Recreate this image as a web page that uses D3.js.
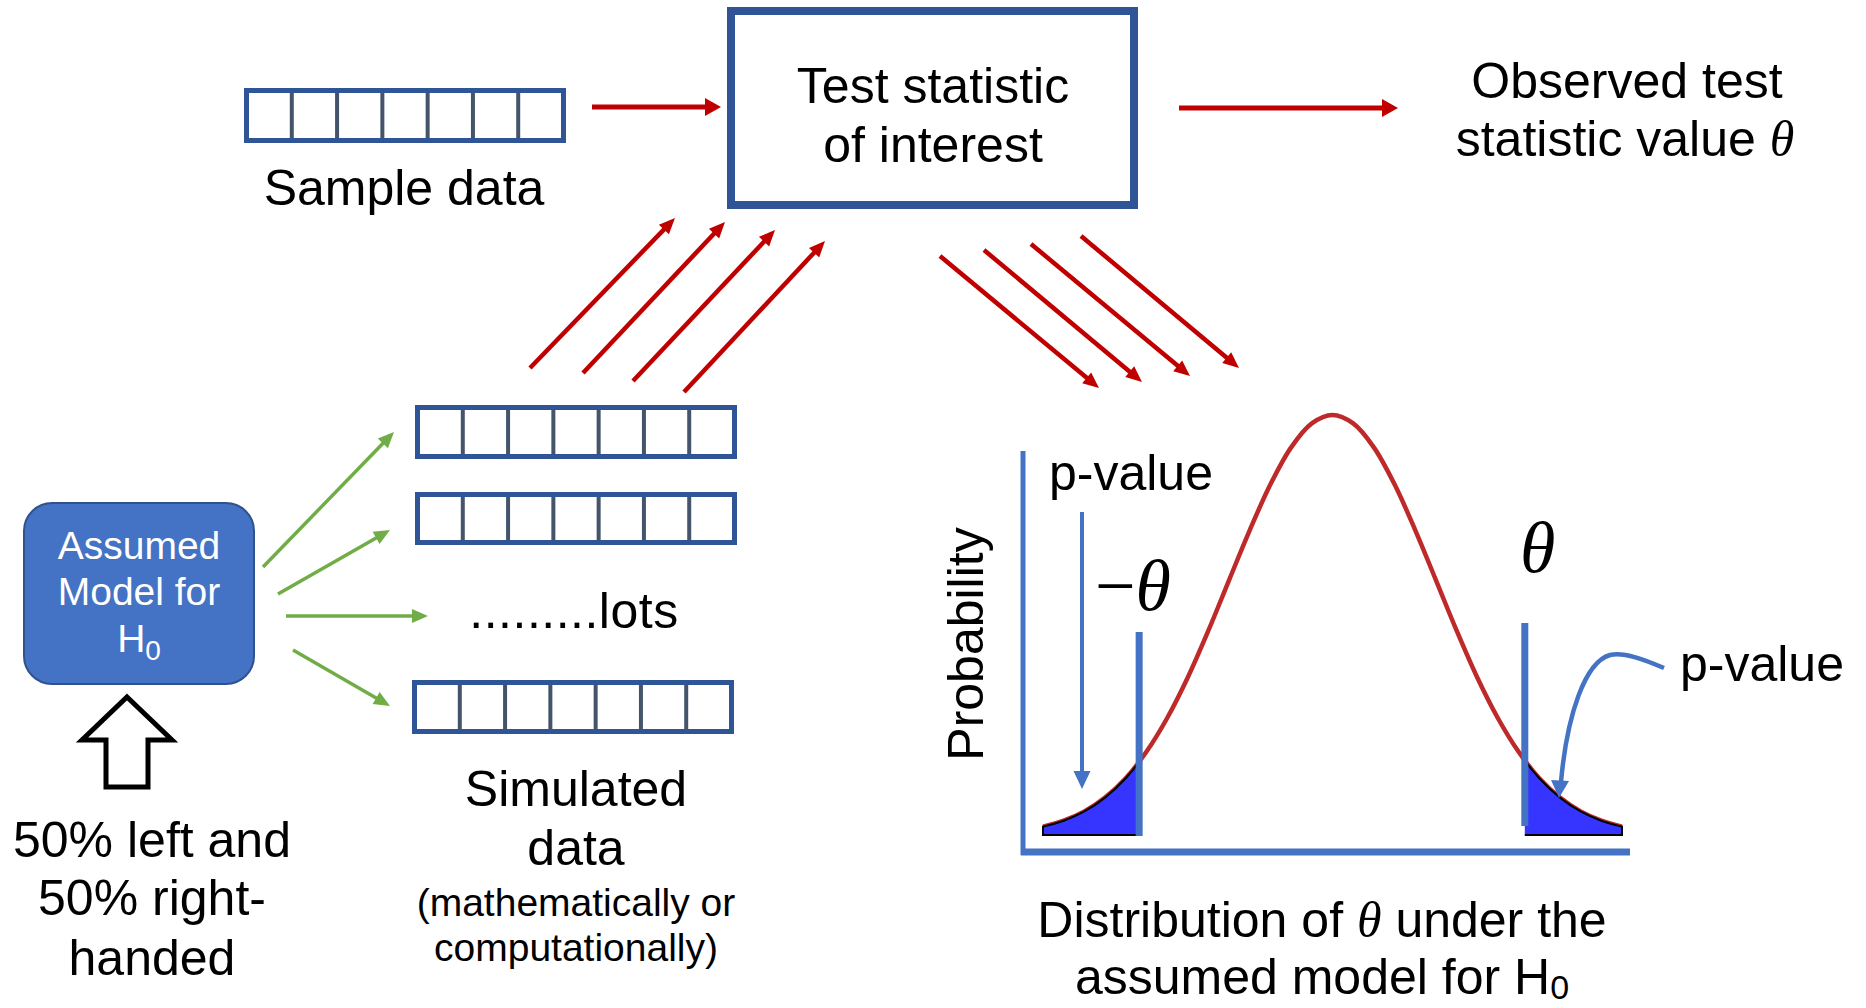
<!DOCTYPE html>
<html>
<head>
<meta charset="UTF-8">
<title>Hypothesis test by simulation</title>
<script src="https://cdn.jsdelivr.net/npm/d3@7"></script>
<style>
  body { margin: 0; background: #fff; }
  svg { display: block; }
  text { font-family: "Liberation Sans", Arial, Helvetica, sans-serif; fill: #000; }
  .theta { font-family: "Liberation Serif", "Times New Roman", serif; font-style: italic; }
</style>
</head>
<body>
<script>
// ---- values ----
var sampleCells = [0, 1, 2, 3, 4, 5, 6];          // 7 cells per data row
var curveZ = [-2.8, -2.6, -2.4, -2.2, -2.0, -1.8, -1.6, -1.4, -1.2, -1.0, -0.8, -0.6, -0.4, -0.2, 0,
              0.2, 0.4, 0.6, 0.8, 1.0, 1.2, 1.4, 1.6, 1.8, 2.0, 2.2, 2.4, 2.6, 2.8];
var curveDensity = [0.02, 0.034, 0.056, 0.089, 0.135, 0.198, 0.278, 0.375, 0.487, 0.607, 0.726, 0.835, 0.923, 0.98, 1,
                    0.98, 0.923, 0.835, 0.726, 0.607, 0.487, 0.375, 0.278, 0.198, 0.135, 0.089, 0.056, 0.034, 0.02];
var critZ = [-1.87, 1.86];                          // -theta and theta
var dots = ".........";

// ---- colours ----
var boxBlue = "#2F5597", cellLine = "#44546A", red = "#C00000", green = "#70AD47",
    midBlue = "#4472C4", tailFill = "#3535FF", curveRed = "#BE2A2A";

var W = 1866, H = 1008;
var svg = d3.select("body").append("svg").attr("width", W).attr("height", H);

function arrow(g, a, color, w, hl, hw) {
  var dx = a[2] - a[0], dy = a[3] - a[1], len = Math.hypot(dx, dy);
  var ux = dx / len, uy = dy / len;
  var bx = a[2] - ux * hl, by = a[3] - uy * hl;
  g.append("line")
    .attr("x1", a[0]).attr("y1", a[1])
    .attr("x2", bx + ux * 2).attr("y2", by + uy * 2)
    .attr("stroke", color).attr("stroke-width", w);
  g.append("path")
    .attr("d", d3.line()([[a[2], a[3]], [bx - uy * hw / 2, by + ux * hw / 2], [bx + uy * hw / 2, by - ux * hw / 2]]) + "Z")
    .attr("fill", color);
}

function dataRow(x, y, w, h) {
  var g = svg.append("g");
  var cx = d3.scaleBand().domain(sampleCells).range([x, x + w]);
  g.selectAll("line").data(sampleCells.slice(1)).enter().append("line")
    .attr("x1", function(d) { return cx(d); }).attr("x2", function(d) { return cx(d); })
    .attr("y1", y).attr("y2", y + h)
    .attr("stroke", cellLine).attr("stroke-width", 4);
  g.append("rect").attr("x", x).attr("y", y).attr("width", w).attr("height", h)
    .attr("fill", "none").attr("stroke", boxBlue).attr("stroke-width", 5);
}

function label(x, y, size, anchor) {
  return svg.append("text").attr("x", x).attr("y", y)
    .attr("font-size", size).attr("text-anchor", anchor || "middle");
}

// ---- top row ----
dataRow(246.5, 90.5, 317, 50);
label(404, 205, 50).text("Sample data");

svg.append("rect").attr("x", 731).attr("y", 11).attr("width", 403).attr("height", 194)
  .attr("fill", "none").attr("stroke", boxBlue).attr("stroke-width", 8);
label(933, 103, 50).text("Test statistic");
label(933, 162, 50).text("of interest");

var arrows = svg.append("g");
arrow(arrows, [592, 107, 721, 107], red, 5, 16, 18);
arrow(arrows, [1179, 108, 1398, 108], red, 5, 16, 18);

label(1627, 98, 50).text("Observed test");
var obs = label(1625, 156, 50);
obs.append("tspan").text("statistic value ");
obs.append("tspan").attr("class", "theta").text("θ");

// simulated data -> statistic
[[530, 368, 675, 218], [583, 373, 725, 222], [633, 381, 775, 230], [684, 392, 825, 241]]
  .forEach(function(a) { arrow(arrows, a, red, 4.5, 16, 14); });
// statistic -> distribution
[[940, 256, 1099, 388], [984, 250, 1142, 382], [1031, 244, 1190, 376], [1081, 236, 1239, 368]]
  .forEach(function(a) { arrow(arrows, a, red, 4.5, 16, 14); });

// ---- model and simulated rows ----
svg.append("rect").attr("x", 24).attr("y", 503).attr("width", 230).attr("height", 181)
  .attr("rx", 28).attr("ry", 28)
  .attr("fill", midBlue).attr("stroke", "#2F528F").attr("stroke-width", 2);
label(139, 559, 39).style("fill", "#fff").text("Assumed");
label(139, 605, 39).style("fill", "#fff").text("Model for");
var h0 = label(139, 652, 39).style("fill", "#fff");
h0.append("tspan").text("H");
h0.append("tspan").attr("font-size", 28).attr("dy", 8).style("fill", "#fff").text("0");

[[263, 567, 394, 432], [278, 594, 390, 530], [286, 616, 428, 616], [293, 650, 390, 706]]
  .forEach(function(a) { arrow(arrows, a, green, 3.5, 16, 14); });

dataRow(417.5, 407.5, 317, 49);
dataRow(417.5, 494.5, 317, 48);
dataRow(414.5, 682.5, 317, 49);
label(574, 628, 50).attr("letter-spacing", 0.5).text(dots + "lots");

// hollow up arrow
svg.append("path")
  .attr("d", d3.line()([[127, 697], [172, 740], [148, 740], [148, 787], [106, 787], [106, 740], [82, 740]]) + "Z")
  .attr("fill", "#fff").attr("stroke", "#000").attr("stroke-width", 5).attr("stroke-linejoin", "miter");

label(152, 857, 50).text("50% left and");
label(152, 915, 50).text("50% right-");
label(152, 975, 50).text("handed");

label(576, 806, 50).text("Simulated");
label(576, 865, 50).text("data");
label(576, 916, 39).text("(mathematically or");
label(576, 961, 39).text("computationally)");

// ---- distribution panel ----
var x = d3.scaleLinear().domain([-2.8, 2.8]).range([1043, 1622]);
var y = d3.scaleLinear().domain([0, 1]).range([835, 415]);
var pts = curveZ.map(function(z, i) { return [z, curveDensity[i]]; });

var defs = svg.append("defs");
defs.append("clipPath").attr("id", "clipL").append("rect")
  .attr("x", 1030).attr("y", 400).attr("width", x(critZ[0]) - 1030).attr("height", 450);
defs.append("clipPath").attr("id", "clipR").append("rect")
  .attr("x", x(critZ[1])).attr("y", 400).attr("width", 1640 - x(critZ[1])).attr("height", 450);

var line = d3.line().x(function(d) { return x(d[0]); }).y(function(d) { return y(d[1]); })
  .curve(d3.curveCatmullRom);
var area = d3.area().x(function(d) { return x(d[0]); }).y0(y(0)).y1(function(d) { return y(d[1]); })
  .curve(d3.curveCatmullRom);

svg.append("path").datum(pts).attr("d", line)
  .attr("fill", "none").attr("stroke", curveRed).attr("stroke-width", 4.5);
["clipL", "clipR"].forEach(function(id) {
  svg.append("path").datum(pts).attr("d", area).attr("clip-path", "url(#" + id + ")")
    .attr("fill", tailFill).attr("stroke", "#000").attr("stroke-width", 2);
});

// axes
svg.append("line").attr("x1", 1023).attr("x2", 1023).attr("y1", 451).attr("y2", 855)
  .attr("stroke", midBlue).attr("stroke-width", 5);
svg.append("line").attr("x1", 1021).attr("x2", 1630).attr("y1", 852).attr("y2", 852)
  .attr("stroke", midBlue).attr("stroke-width", 7);

// critical lines
svg.append("line").attr("x1", x(critZ[0])).attr("x2", x(critZ[0])).attr("y1", 632).attr("y2", 836)
  .attr("stroke", midBlue).attr("stroke-width", 7);
svg.append("line").attr("x1", x(critZ[1])).attr("x2", x(critZ[1])).attr("y1", 623).attr("y2", 826)
  .attr("stroke", midBlue).attr("stroke-width", 7);

label(0, 0, 50).attr("transform", "translate(983,644) rotate(-90)").text("Probability");

label(1049, 490, 50, "start").text("p-value");
arrow(svg, [1082, 512, 1082, 789], midBlue, 4, 18, 17);

var mt = label(1095, 610, 72, "start");
mt.append("tspan").attr("font-family", "Liberation Serif, serif").text("−");
mt.append("tspan").attr("class", "theta").text("θ");
label(1520, 572, 72, "start").attr("class", "theta").text("θ");

label(1680, 681, 50, "start").text("p-value");
svg.append("path")
  .attr("d", "M1664,668 C1645,660 1625,652 1610,655 C1585,662 1567,715 1561,782")
  .attr("fill", "none").attr("stroke", midBlue).attr("stroke-width", 4.5);
svg.append("path")
  .attr("d", d3.line()([[1559, 798], [1551, 780], [1569, 781]]) + "Z")
  .attr("fill", midBlue);

var d1 = label(1322, 937, 50);
d1.append("tspan").text("Distribution of ");
d1.append("tspan").attr("class", "theta").text("θ");
d1.append("tspan").text(" under the");
var d2 = label(1322, 994, 50);
d2.append("tspan").text("assumed model for H");
d2.append("tspan").attr("font-size", 34).attr("dy", 5).text("0");
</script>
</body>
</html>
